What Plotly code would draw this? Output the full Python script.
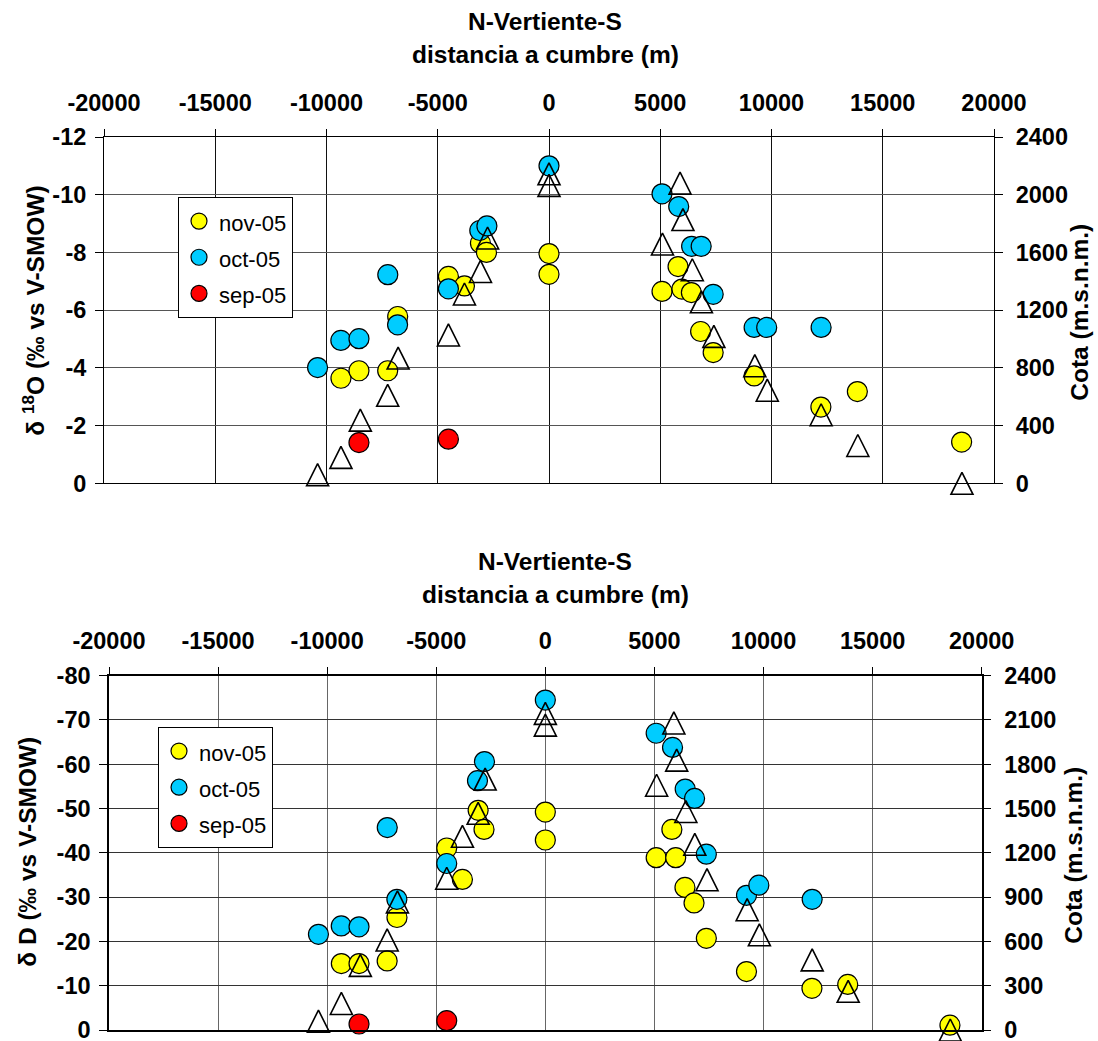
import plotly.graph_objects as go

# Distance to the summit (m): negative = north slope, positive = south slope
nov_x = [-9350, -8540, -7250, -6800, -4520, -3800, -3080, -2810, 0, 0,
         5080, 5800, 5975, 6400, 6815, 7380, 9220, 12220, 13860, 18545]
nov_d18o = [-3.64, -3.90, -3.90, -5.78, -7.17, -6.84, -8.32, -8.00, -7.96, -7.24,
            -6.65, -7.51, -6.73, -6.61, -5.26, -4.53, -3.72, -2.64, -3.18, -1.43]
nov_dd = [-15.0, -15.0, -15.6, -25.4, -41.1, -34.0, -49.6, -45.3, -49.2, -42.9,
          -38.9, -45.3, -38.9, -32.2, -28.7, -20.7, -13.2, -9.4, -10.3, -1.1]

oct_x = [-10400, -9355, -8540, -7245, -6805, -4520, -3110, -2790, 0,
         5080, 5830, 6410, 6840, 7380, 9220, 9785, 12230]
oct_d18o = [-4.01, -4.95, -5.01, -7.23, -5.49, -6.74, -8.76, -8.92, -11.0,
            -10.03, -9.59, -8.21, -8.21, -6.55, -5.40, -5.40, -5.40]
oct_dd = [-21.6, -23.5, -23.3, -45.7, -29.5, -37.6, -56.3, -60.6, -74.5,
          -67.0, -63.8, -54.4, -52.3, -39.7, -30.4, -32.7, -29.5]

sep_x = [-8540, -4520]
sep_d18o = [-1.41, -1.53]
sep_dd = [-1.35, -2.1]

# Elevation of the sampling points (m a.s.l.)
cota_x = [-10400, -9350, -8480, -7250, -6780, -4520, -3800, -3080, -2760, 0, 0,
          5100, 5890, 6020, 6440, 6850, 7410, 9250, 9810, 12230, 13880, 18560]
cota_m = [60, 180, 438, 610, 868, 1028, 1312, 1468, 1700, 2145, 2065,
          1658, 2080, 1828, 1480, 1258, 1018, 815, 645, 475, 262, 0]

x_ticks = [-20000, -15000, -10000, -5000, 0, 5000, 10000, 15000, 20000]
x_ticktext = ["-20000", "-15000", "-10000", "-5000", "0", "5000", "10000", "15000", "20000"]
d18o_ticks = [-12, -10, -8, -6, -4, -2, 0]
d18o_ticktext = ["-12", "-10", "-8", "-6", "-4", "-2", "0"]
dd_ticks = [-80, -70, -60, -50, -40, -30, -20, -10, 0]
dd_ticktext = ["-80", "-70", "-60", "-50", "-40", "-30", "-20", "-10", "0"]
cota_ticks_top = [0, 400, 800, 1200, 1600, 2000, 2400]
cota_ticks_bottom = [0, 300, 600, 900, 1200, 1500, 1800, 2100, 2400]

series_names = ["nov-05", "oct-05", "sep-05"]
series_colors = ["#FFFF00", "#00CCFF", "#FF0000"]

W, H = 1098, 1041
FONT = "Arial, 'Liberation Sans', sans-serif"


def fx(p):
    return p / W


def fy(p):
    return 1 - p / H


def circle_marker(color):
    return dict(symbol="circle", size=20, color=color,
                line=dict(color="black", width=1.2))


triangle_marker = dict(symbol="arrow-down", angle=180, standoff=11, size=22,
                       color="rgba(0,0,0,0)", line=dict(color="black", width=1.6))

fig = go.Figure()

panels = [
    dict(xa="x", ya="y", ya2="y2", legend="legend",
         values=[nov_d18o, oct_d18o, sep_d18o]),
    dict(xa="x2", ya="y3", ya2="y4", legend="legend2",
         values=[nov_dd, oct_dd, sep_dd]),
]
xs = [nov_x, oct_x, sep_x]

for p in panels:
    for name, color, x, y in zip(series_names, series_colors, xs, p["values"]):
        fig.add_trace(go.Scatter(
            x=x, y=y, mode="markers", xaxis=p["xa"], yaxis=p["ya"],
            name='<span style="font-size:22px">%s</span>' % name,
            legend=p["legend"], marker=circle_marker(color), cliponaxis=False,
        ))
    fig.add_trace(go.Scatter(
        x=cota_x, y=cota_m, mode="markers", xaxis=p["xa"], yaxis=p["ya2"],
        showlegend=False, marker=triangle_marker, cliponaxis=False,
    ))

tick_font = dict(family=FONT, size=23.5, color="black", weight="bold")
title_font = dict(family=FONT, size=24.5, color="black", weight="bold")

common_axis = dict(ticks="outside", tickcolor="black", tickwidth=1,
                   zeroline=False, tickfont=tick_font, fixedrange=True,
                   automargin=False, ticklabeloverflow="allow", showline=True,
                   linecolor="black")


def x_axis(domain, anchor, gridcolor, lw):
    return dict(domain=domain, anchor=anchor, side="top", range=[-20000, 20000],
                tickmode="array", tickvals=x_ticks, ticktext=x_ticktext,
                ticklen=7, ticklabelstandoff=9,
                showgrid=True, gridcolor=gridcolor, gridwidth=1,
                linewidth=lw, mirror=True, **common_axis)


def y_left(domain, anchor, rng, vals, text, gridcolor, lw):
    return dict(domain=domain, anchor=anchor, range=rng,
                tickmode="array", tickvals=vals, ticktext=text,
                ticklen=8, ticklabelstandoff=4,
                showgrid=True, gridcolor=gridcolor, gridwidth=1,
                linewidth=lw, **common_axis)


def y_right(overlay, anchor, vals, lw):
    return dict(overlaying=overlay, anchor=anchor, side="right", range=[0, 2400],
                tickmode="array", tickvals=vals, ticktext=[str(v) for v in vals],
                ticklen=8, ticklabelstandoff=8,
                showgrid=False, linewidth=lw, **common_axis)


top_x = [fx(104), fx(994)]
top_y = [fy(483.3), fy(137)]
bot_x = [fx(109), fx(981.7)]
bot_y = [fy(1030), fy(675.7)]

legend_style = dict(xanchor="left", yanchor="top", bgcolor="white",
                    bordercolor="black", borderwidth=1,
                    font=dict(family=FONT, size=25.5, color="black"),
                    itemsizing="trace")

annotations = []
for cx, y1, y2 in [(545, 22, 54.8), (555, 561.5, 594.8)]:
    annotations.append(dict(text="N-Vertiente-S", x=fx(cx), y=fy(y1), xref="paper",
                            yref="paper", showarrow=False, xanchor="center",
                            yanchor="middle", font=title_font))
    annotations.append(dict(text="distancia a cumbre (m)", x=fx(cx), y=fy(y2),
                            xref="paper", yref="paper", showarrow=False,
                            xanchor="center", yanchor="middle", font=title_font))
for text, cx, cy in [("δ <sup>18</sup>O (‰ vs V-SMOW)", 32.7, 311),
                     ("δ D (‰ vs V-SMOW)", 26.7, 852),
                     ("Cota (m.s.n.m.)", 1079.7, 312),
                     ("Cota (m.s.n.m.)", 1072.7, 855)]:
    annotations.append(dict(text=text, x=fx(cx), y=fy(cy), xref="paper",
                            yref="paper", showarrow=False, xanchor="center",
                            yanchor="middle", textangle=-90, font=title_font))

fig.update_layout(
    width=W, height=H, autosize=False,
    margin=dict(l=0, r=0, t=0, b=0, autoexpand=False),
    paper_bgcolor="white", plot_bgcolor="white",
    font=dict(family=FONT, color="black"),
    xaxis=x_axis(top_x, "y", "#111111", 1),
    yaxis=y_left(top_y, "x", [0, -12], d18o_ticks, d18o_ticktext, "#555555", 1),
    yaxis2=y_right("y", "x", cota_ticks_top, 1),
    xaxis2=x_axis(bot_x, "y3", "#666666", 1.5),
    yaxis3=y_left(bot_y, "x2", [0, -80], dd_ticks, dd_ticktext, "#333333", 1.5),
    yaxis4=y_right("y3", "x2", cota_ticks_bottom, 1.5),
    legend=dict(x=fx(178), y=fy(197), **legend_style),
    legend2=dict(x=fx(158), y=fy(727), **legend_style),
    annotations=annotations,
    showlegend=True,
)

fig.write_html("out.html")
